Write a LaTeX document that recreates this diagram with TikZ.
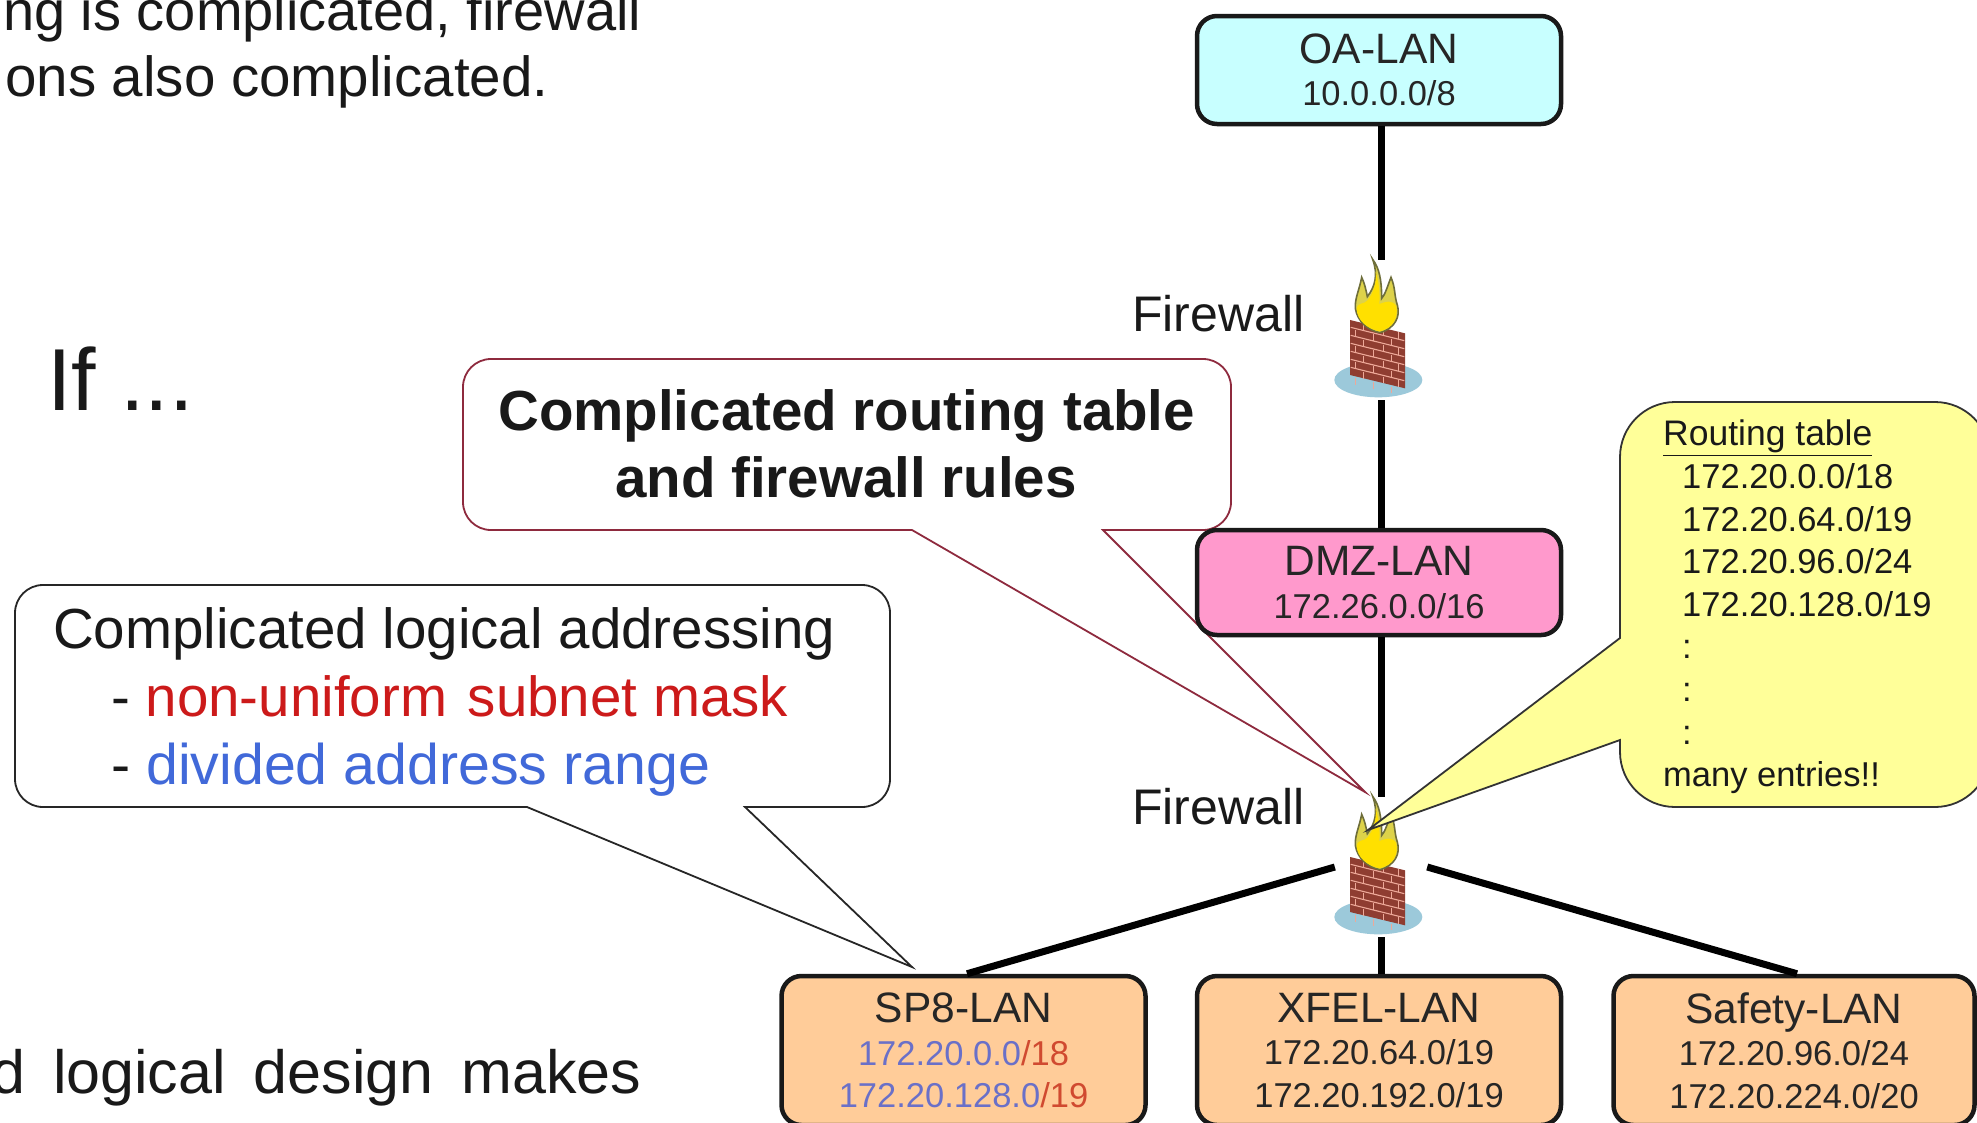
\documentclass[tikz,border=0pt]{standalone}
\usepackage{fontspec}
\setmainfont{Liberation Sans}
\definecolor{oacol}{HTML}{C8FFFF}
\definecolor{dmzcol}{HTML}{FF99CC}
\definecolor{lancol}{HTML}{FFCC99}
\definecolor{notecol}{HTML}{FFFF99}
\definecolor{redline}{HTML}{8E2A3E}
\definecolor{redtxt}{HTML}{CC1A1A}
\definecolor{bluetxt}{HTML}{4169D9}
\definecolor{addrblue}{HTML}{6A70C8}
\definecolor{addrred}{HTML}{D04A30}
\definecolor{brickcol}{HTML}{A8483A}
\definecolor{mortar}{HTML}{EDA898}
\definecolor{basecol}{HTML}{9CC9DA}
\definecolor{flamecol}{HTML}{FFE000}
\definecolor{flameedge}{HTML}{6E6E3A}
\definecolor{flameback}{HTML}{DDD24A}
\newcommand{\lanname}[1]{{\fontsize{42.5}{43}\selectfont #1}}
\tikzset{
  lanbox/.style={draw=black!90,line width=4.5pt,rounded corners=20pt,minimum width=364pt,align=center,inner sep=0pt,text=black!85,font=\fontsize{34.5}{42.5}\selectfont},
  fwbox/.style={minimum width=92pt,minimum height=140pt,inner sep=0pt},
  link/.style={line width=7pt,black},
  txt/.style={anchor=base west,inner sep=0pt,text=black!90},
  big/.style={font=\fontsize{56.5}{60}\selectfont},
  bigb/.style={font=\bfseries\fontsize{56.5}{60}\selectfont},
  fwlabel/.style={txt,font=\fontsize{50}{52}\selectfont},
  note/.style={line width=1.8pt,rounded corners=28pt},
  firewall/.pic={
    \fill[basecol] (295,420) ellipse [x radius=132,y radius=52];
    \fill[brickcol!85!black] (210,240) -- (375,280) -- (375,445) -- (210,405) -- cycle;
    \foreach \d in {22,46,70,94,118,142}
      \draw[mortar,line width=1.1pt] (212,240+\d) -- (373,280+\d);
    \foreach \d in {0,48,96,144}{
      \foreach \u in {250,310,355}
        \draw[mortar,line width=.9pt] (\u,{240+\d+(\u-210)*40/165+2}) -- ++(0,20);
      \foreach \u in {225,280,335}
        \draw[mortar,line width=.9pt] (\u,{264+\d+(\u-210)*40/165+2}) -- ++(0,20);
    }
    \fill[flameback,draw=flameedge,line width=1.6pt]
      (300,278) .. controls (265,272) and (232,245) .. (226,205)
      .. controls (224,175) and (238,150) .. (245,112)
      .. controls (254,130) and (258,150) .. (262,170)
      .. controls (285,140) and (295,105) .. (278,58)
      .. controls (298,85) and (305,120) .. (305,175)
      .. controls (315,165) and (322,140) .. (333,112)
      .. controls (347,145) and (342,165) .. (352,195)
      .. controls (362,230) and (345,265) .. (300,278) -- cycle;
    \fill[flamecol] (298,274) .. controls (260,266) and (232,240) .. (230,208)
      .. controls (232,185) and (250,195) .. (262,182)
      .. controls (280,160) and (290,130) .. (287,95)
      .. controls (298,130) and (300,165) .. (298,192)
      .. controls (318,185) and (335,178) .. (349,198)
      .. controls (356,235) and (338,266) .. (298,274) -- cycle;
  }
}
\begin{document}
\begin{tikzpicture}[x=1pt,y=-1pt]
\useasboundingbox (0,0) rectangle (1977,1122);
\clip (0,0) rectangle (1977,1122);
\fill[white] (0,0) rectangle (1977,1122);

% slide text
\node[txt,font=\fontsize{56}{60}\selectfont] (t1) at (3,30) {ng is complicated, firewall};
\node[txt,big] (t2) at (5,96) {ons also complicated.};
\node[txt,font=\fontsize{88}{92}\selectfont] (t3) at (47,410) {If ...};
\node[txt,font=\fontsize{61}{64}\selectfont] (t4) at (-9,1093) {d\hspace{11pt} logical\hspace{11pt} design\hspace{11pt} makes};

% firewalls (anchors for the links)
\node[fwbox] (fwa) at (1381,330) {};
\node[fwbox] (fwb) at (1381,867) {};

% red callout, under the DMZ box
\coordinate (redtip) at (1365,792);
\draw[redline,fill=white,note]
  (912,530) -- (463,530) -- (463,359) -- (1231,359) -- (1231,530)
  [sharp corners] -- (1103,530) -- (redtip) -- cycle;
\node[txt,bigb] (r1) at (498,430) {Complicated routing table};
\node[txt,bigb] (r2) at (615,497) {and firewall rules};

% LAN boxes
\node[lanbox,fill=oacol,minimum height=108pt] (oa) at (1379,70) {\lanname{OA-LAN}\\10.0.0.0/8};
\node[lanbox,fill=dmzcol,minimum height=105pt] (dmz) at (1379,582.5) {\lanname{DMZ-LAN}\\172.26.0.0/16};
\node[lanbox,fill=lancol,minimum height=149pt] (sp8) at (963.5,1050.5) {\lanname{SP8-LAN}\\\textcolor{addrblue}{172.20.0.0}\textcolor{addrred}{/18}\\\textcolor{addrblue}{172.20.128.0}\textcolor{addrred}{/19}};
\node[lanbox,fill=lancol,minimum height=149pt] (xfel) at (1379,1050.5) {\lanname{XFEL-LAN}\\172.20.64.0/19\\172.20.192.0/19};
\node[lanbox,fill=lancol,minimum height=149pt,minimum width=361pt] (safety) at (1794,1050.5) {\lanname{Safety-LAN}\\172.20.96.0/24\\172.20.224.0/20};

% links
\draw[link] (oa.south -| fwa.north) -- (fwa.north);
\draw[link] (fwa.south) -- (dmz.north -| fwa.south);
\draw[link] (dmz.south -| fwb.north) -- (fwb.north);
\draw[link] (fwb.south) -- (xfel.north -| fwb.south);
\draw[link] (fwb.west) -- (sp8.north -| 967,0);
\draw[link] (fwb.east) -- (safety.north -| 1797,0);

% firewall icons
\pic[scale=0.3333] (fwicona) at (1280,240) {firewall};
\pic[scale=0.3333] (fwiconb) at (1280,777) {firewall};
\node[fwlabel] (fl1) at (1132,331) {Firewall};
\node[fwlabel] (fl2) at (1132,824) {Firewall};

% left callout
\coordinate (leftip) at (912,967);
\draw[black!85,fill=white,note]
  (527,807) -- (15,807) -- (15,585) -- (890,585) -- (890,807)
  [sharp corners] -- (745,807) -- (leftip) -- cycle;
\node[txt,big] (c1) at (53,648) {Complicated logical addressing};
\node[txt,big] (c2) at (111,716) {- \textcolor{redtxt}{non-uniform\hspace{5pt} subnet mask}};
\node[txt,font=\fontsize{57.3}{60}\selectfont] (c3) at (111,784) {- \textcolor{bluetxt}{divided address range}};

% routing table callout
\coordinate (yeltip) at (1368,830);
\draw[black!80,fill=notecol,note,rounded corners=55pt]
  (1620,638) -- (1620,402) -- (1990,402) -- (1990,807) -- (1620,807)
  [sharp corners] -- (1620,740) -- (yeltip) -- cycle;
\node[anchor=north west,align=left,inner sep=0pt,text=black!90,font=\fontsize{34.5}{42.6}\selectfont] (rt) at (1663,420) {%
\underline{\fontsize{35.5}{42.6}\selectfont Routing table}\\
\hspace{19pt}172.20.0.0/18\\
\hspace{19pt}172.20.64.0/19\\
\hspace{19pt}172.20.96.0/24\\
\hspace{19pt}172.20.128.0/19\\
\hspace{19pt}:\\
\hspace{19pt}:\\
\hspace{19pt}:\\
many entries!!};
\end{tikzpicture}
\end{document}
